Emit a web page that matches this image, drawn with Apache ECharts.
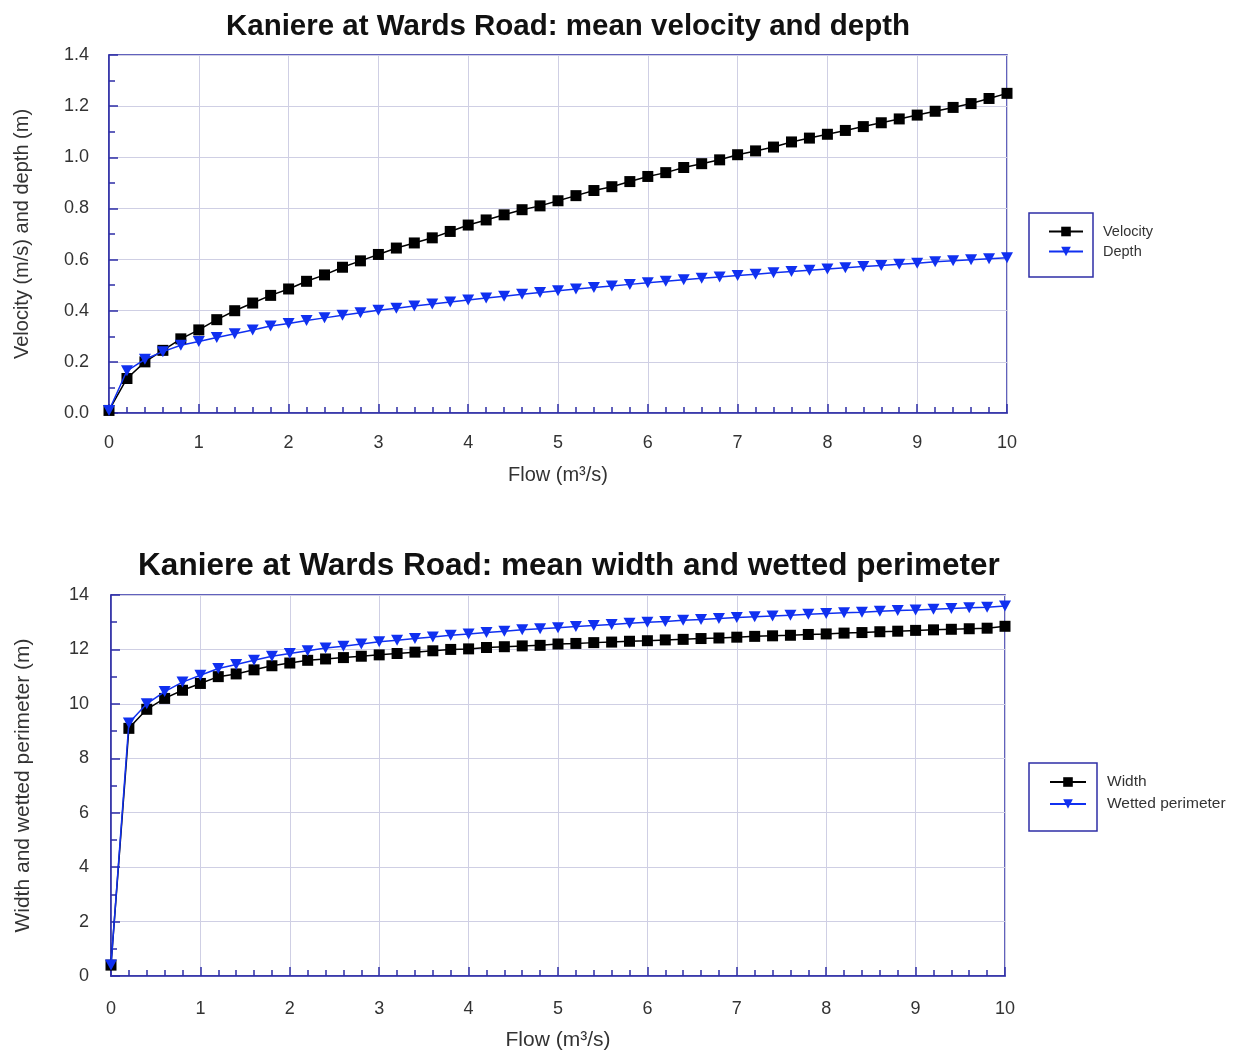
<!DOCTYPE html>
<html>
<head>
<meta charset="utf-8">
<script src="https://cdn.jsdelivr.net/npm/echarts@6/dist/echarts.min.js"></script>
<style>
html,body{margin:0;padding:0;background:#fff;}
#chart{width:1237px;height:1054px;}
</style>
</head>
<body>
<div id="chart"></div>
<script>
var flow = [0,0.2,0.4,0.6,0.8,1.0,1.2,1.4,1.6,1.8,2.0,2.2,2.4,2.6,2.8,3.0,3.2,3.4,3.6,3.8,4.0,4.2,4.4,4.6,4.8,5.0,5.2,5.4,5.6,5.8,6.0,6.2,6.4,6.6,6.8,7.0,7.2,7.4,7.6,7.8,8.0,8.2,8.4,8.6,8.8,9.0,9.2,9.4,9.6,9.8,10.0];
var velocity = [0.01,0.135,0.2,0.245,0.29,0.325,0.365,0.4,0.43,0.46,0.485,0.515,0.54,0.57,0.595,0.62,0.645,0.665,0.685,0.71,0.735,0.755,0.775,0.795,0.81,0.83,0.85,0.87,0.885,0.905,0.925,0.94,0.96,0.975,0.99,1.01,1.025,1.04,1.06,1.075,1.09,1.105,1.12,1.135,1.15,1.165,1.18,1.195,1.21,1.23,1.25];
var depth = [0.01,0.165,0.21,0.24,0.265,0.28,0.295,0.31,0.325,0.34,0.35,0.362,0.372,0.382,0.392,0.402,0.41,0.418,0.426,0.434,0.442,0.45,0.457,0.464,0.471,0.478,0.485,0.491,0.497,0.503,0.509,0.515,0.521,0.527,0.532,0.538,0.543,0.548,0.553,0.558,0.563,0.568,0.573,0.577,0.582,0.586,0.591,0.595,0.599,0.603,0.607];
var width = [0.4,9.1,9.8,10.2,10.5,10.75,11.0,11.1,11.25,11.4,11.5,11.6,11.65,11.7,11.75,11.8,11.85,11.9,11.95,12.0,12.02,12.07,12.1,12.13,12.15,12.2,12.22,12.25,12.27,12.3,12.32,12.35,12.37,12.4,12.42,12.45,12.48,12.5,12.52,12.55,12.57,12.6,12.62,12.65,12.67,12.7,12.72,12.74,12.76,12.78,12.85];
var perimeter = [0.4,9.3,10.0,10.45,10.8,11.05,11.3,11.45,11.6,11.75,11.85,11.95,12.05,12.12,12.2,12.28,12.34,12.4,12.46,12.52,12.57,12.62,12.67,12.72,12.76,12.8,12.84,12.88,12.92,12.96,13.0,13.03,13.07,13.1,13.14,13.17,13.2,13.23,13.26,13.29,13.32,13.35,13.37,13.4,13.43,13.45,13.48,13.5,13.53,13.55,13.6];

var titles = ['Kaniere at Wards Road: mean velocity and depth','Kaniere at Wards Road: mean width and wetted perimeter'];
var xName = 'Flow (m³/s)';
var yNames = ['Velocity (m/s) and depth (m)','Width and wetted perimeter (m)'];
var legend1 = ['Velocity','Depth'];
var legend2 = ['Width','Wetted perimeter'];

function pairs(xs, ys){ return xs.map(function(x,i){ return [x, ys[i]]; }); }

var FONT = 'Liberation Sans';
var AXIS = '#2e2ea6';
var GRIDC = '#cfcfe4';
var BLUE = '#1030f0';

function xAxis(gi, gap, nameSize, lblMargin){
  return {
    type:'value', gridIndex:gi, min:0, max:10, interval:1,
    name:xName, nameLocation:'middle', nameGap:gap,
    nameTextStyle:{fontFamily:FONT,fontSize:nameSize,color:'#333'},
    axisLine:{show:true,lineStyle:{color:AXIS,width:1.5}},
    axisTick:{show:true,inside:true,length:9,lineStyle:{color:AXIS,width:1.5}},
    minorTick:{show:true,splitNumber:5,length:6,lineStyle:{color:AXIS,width:1.5}},
    axisLabel:{fontFamily:FONT,fontSize:18,color:'#333',margin:lblMargin},
    splitLine:{show:true,lineStyle:{color:GRIDC,width:1}}
  };
}
function yAxis(gi, max, interval, fmt, nameSize, lblMargin){
  return {
    type:'value', gridIndex:gi, min:0, max:max, interval:interval,
    name:yNames[gi], nameLocation:'middle', nameGap:77,
    nameTextStyle:{fontFamily:FONT,fontSize:nameSize,color:'#333'},
    axisLine:{show:true,lineStyle:{color:AXIS,width:1.5}},
    axisTick:{show:true,inside:true,length:9,lineStyle:{color:AXIS,width:1.5}},
    minorTick:{show:true,splitNumber:2,length:6,lineStyle:{color:AXIS,width:1.5}},
    axisLabel:{fontFamily:FONT,fontSize:18,color:'#333',margin:lblMargin,formatter:fmt},
    splitLine:{show:true,lineStyle:{color:GRIDC,width:1}}
  };
}
function sq(name, data, xi){
  return {name:name,type:'line',xAxisIndex:xi,yAxisIndex:xi,data:data,
    symbol:'rect',symbolSize:11,color:'#000',
    lineStyle:{color:'#000',width:1.5},itemStyle:{color:'#000'},z:3};
}
function tri(name, data, xi){
  return {name:name,type:'line',xAxisIndex:xi,yAxisIndex:xi,data:data,
    symbol:'triangle',symbolRotate:180,symbolSize:[12,11],color:BLUE,
    lineStyle:{color:BLUE,width:1.5},itemStyle:{color:BLUE},z:4};
}

var chart = echarts.init(document.getElementById('chart'), null, {renderer:'canvas'});
chart.setOption({
  backgroundColor:'#fff',
  animation:false,
  title:[
    {text:titles[0],left:563,top:7,textAlign:'center',textStyle:{fontFamily:FONT,fontSize:29.5,fontWeight:'bold',color:'#111'}},
    {text:titles[1],left:564,top:545,textAlign:'center',textStyle:{fontFamily:FONT,fontSize:31.5,fontWeight:'bold',color:'#111'}}
  ],
  grid:[
    {left:109,top:55,width:898,height:358,show:true,borderColor:AXIS,borderWidth:1.5,backgroundColor:'transparent',outerBoundsMode:'none',containLabel:false},
    {left:111,top:595,width:894,height:381,show:true,borderColor:AXIS,borderWidth:1.5,backgroundColor:'transparent',outerBoundsMode:'none',containLabel:false}
  ],
  xAxis:[xAxis(0,52,20,21), xAxis(1,54,21,24)],
  yAxis:[
    yAxis(0,1.4,0.2,function(v){return v.toFixed(1);},20,20),
    yAxis(1,14,2,function(v){return String(v);},21,22)
  ],
  legend:[
    {data:legend1,orient:'vertical',left:1043,top:219,itemWidth:34,itemHeight:12,itemGap:5,
     textStyle:{fontFamily:FONT,fontSize:14.5,color:'#333',padding:[0,0,0,15]}},
    {data:legend2,orient:'vertical',left:1044,top:769,itemWidth:36,itemHeight:12,itemGap:6,
     textStyle:{fontFamily:FONT,fontSize:15.5,color:'#333',padding:[0,0,0,16]}}
  ],
  graphic:[
    {type:'rect',shape:{x:1029,y:213,width:64,height:64},style:{fill:'none',stroke:AXIS,lineWidth:1.5}},
    {type:'rect',shape:{x:1029,y:763,width:68,height:68},style:{fill:'none',stroke:AXIS,lineWidth:1.5}}
  ],
  series:[
    sq(legend1[0], pairs(flow,velocity), 0),
    tri(legend1[1], pairs(flow,depth), 0),
    sq(legend2[0], pairs(flow,width), 1),
    tri(legend2[1], pairs(flow,perimeter), 1)
  ]
});
</script>
</body>
</html>
